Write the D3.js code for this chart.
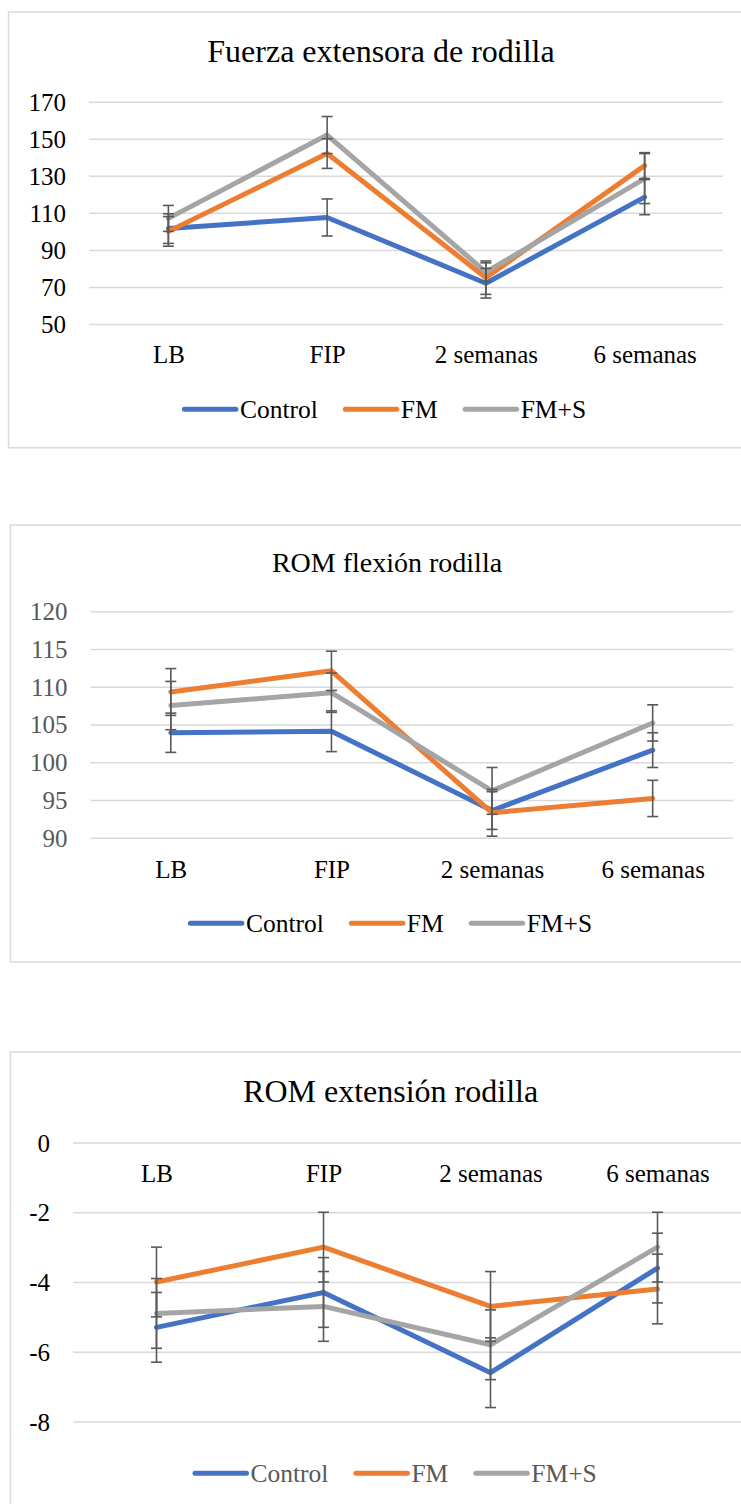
<!DOCTYPE html>
<html>
<head>
<meta charset="utf-8">
<script src="https://cdn.jsdelivr.net/npm/d3@7"></script>
<style>
  html, body { margin: 0; padding: 0; background: #ffffff; }
  svg { display: block; }
  svg text { font-family: "Liberation Serif", "Times New Roman", Tinos, "DejaVu Serif", serif !important; }
</style>
</head>
<body>
<svg id="page" width="741" height="1504"></svg>
<script>
// Shared categories and series
const categories = ["LB", "FIP", "2 semanas", "6 semanas"];
const seriesNames = ["Control", "FM", "FM+S"];
const seriesColors = ["#4472C4", "#ED7D31", "#A5A5A5"];

// Fuerza extensora de rodilla
const fuerzaTitle = "Fuerza extensora de rodilla";
const fuerzaTicks = [50, 70, 90, 110, 130, 150, 170];
const fuerzaControl = [101.5, 107.5, 72, 118.5];
const fuerzaControlErr = [8, 10, 8, 9.5];
const fuerzaFM = [100, 142, 75, 135.5];
const fuerzaFMErr = [8, 8, 9, 7];
const fuerzaFMS = [107, 152, 78, 128.5];
const fuerzaFMSErr = [7, 10, 5, 13.5];

// ROM flexión rodilla
const flexionTitle = "ROM flexión rodilla";
const flexionTicks = [90, 95, 100, 105, 110, 115, 120];
const flexionControl = [103.9, 104.1, 93.6, 101.6];
const flexionControlErr = [2.6, 2.7, 2.5, 2.3];
const flexionFM = [109.3, 112.1, 93.3, 95.2];
const flexionFMErr = [3.1, 2.6, 3.1, 2.4];
const flexionFMS = [107.5, 109.2, 96.2, 105.2];
const flexionFMSErr = [3.2, 2.6, 3.1, 2.4];

// ROM extensión rodilla
const extensionTitle = "ROM extensión rodilla";
const extensionTicks = [-8, -6, -4, -2, 0];
const extensionControl = [-5.3, -4.3, -6.6, -3.6];
const extensionControlErr = [1, 1, 1, 1];
const extensionFM = [-4.0, -3.0, -4.7, -4.2];
const extensionFMErr = [1, 1, 1, 1];
const extensionFMS = [-4.9, -4.7, -5.8, -3.0];
const extensionFMSErr = [1, 1, 1, 1];

const SERIF = "'Liberation Serif', 'Times New Roman', Tinos, 'DejaVu Serif', serif";
const svg = d3.select("#page");

function drawChart(cfg) {
  const g = svg.append("g").attr("font-family", SERIF);

  // frame
  g.append("rect")
    .attr("x", cfg.box[0]).attr("y", cfg.box[1])
    .attr("width", cfg.box[2]).attr("height", cfg.box[3])
    .attr("fill", "none").attr("stroke", "#d9d9d9").attr("stroke-width", 1.5);

  // title
  g.append("text")
    .attr("x", cfg.titleX).attr("y", cfg.titleY)
    .attr("text-anchor", "middle")
    .attr("font-size", cfg.titleSize)
    .attr("fill", "#000")
    .text(cfg.title);

  const x = d3.scalePoint().domain(categories).range(cfg.xRange).padding(0.5);
  const y = d3.scaleLinear().domain(cfg.yDomain).range(cfg.yRange);

  // gridlines + y tick labels (plain hyphen-minus for negatives)
  const yAxis = d3.axisLeft(y).tickValues(cfg.ticks)
    .tickSize(-(cfg.gridEnd - cfg.xRange[0])).tickPadding(0)
    .tickFormat(d => String(d));
  const ya = g.append("g").attr("transform", `translate(${cfg.xRange[0]},0)`).call(yAxis);
  ya.attr("font-family", SERIF).attr("font-size", 25);
  ya.select(".domain").remove();
  ya.selectAll(".tick line").attr("stroke", "#d9d9d9").attr("stroke-width", 1.5);
  ya.selectAll(".tick text")
    .attr("x", cfg.tickRight - cfg.xRange[0])
    .attr("dy", "0.34em")
    .attr("fill", cfg.tickColor);

  // category labels
  const xa = g.append("g").attr("transform", `translate(0,${cfg.catY})`)
    .call(d3.axisBottom(x).tickSize(0).tickPadding(0));
  xa.attr("font-family", SERIF).attr("font-size", 25);
  xa.select(".domain").remove();
  xa.selectAll(".tick text")
    .attr("dy", 0).attr("y", 0)
    .attr("fill", "#000");

  const line = d3.line().x((d, i) => x(categories[i])).y(d => y(d));

  // series lines
  cfg.series.forEach((s, k) => {
    g.append("path")
      .datum(s.values)
      .attr("d", line)
      .attr("fill", "none")
      .attr("stroke", seriesColors[k])
      .attr("stroke-width", 5)
      .attr("stroke-linejoin", "round")
      .attr("stroke-linecap", "round");
  });

  // error bars
  cfg.series.forEach((s) => {
    s.values.forEach((v, i) => {
      const cx = x(categories[i]);
      const lo = y(v - s.err[i]), hi = y(v + s.err[i]);
      const eg = g.append("g").attr("stroke", "#595959").attr("stroke-width", 1.6);
      eg.append("line").attr("x1", cx).attr("x2", cx).attr("y1", lo).attr("y2", hi);
      eg.append("line").attr("x1", cx - 5.5).attr("x2", cx + 5.5).attr("y1", lo).attr("y2", lo);
      eg.append("line").attr("x1", cx - 5.5).attr("x2", cx + 5.5).attr("y1", hi).attr("y2", hi);
    });
  });

  // legend
  const lg = g.append("g");
  let cursor = 0;
  seriesNames.forEach((name, k) => {
    const it = lg.append("g");
    it.append("line")
      .attr("x1", 2.5).attr("x2", 54).attr("y1", cfg.legendLineY).attr("y2", cfg.legendLineY)
      .attr("stroke", seriesColors[k]).attr("stroke-width", 5).attr("stroke-linecap", "round");
    const t = it.append("text")
      .attr("x", 58).attr("y", cfg.legendY)
      .attr("font-size", 25.5)
      .attr("fill", cfg.legendColor)
      .text(name);
    const w = 58 + t.node().getComputedTextLength();
    it.attr("transform", `translate(${cursor},0)`);
    cursor += w + 25;
  });
  const total = cursor - 25;
  lg.attr("transform", `translate(${cfg.legendCenter - total / 2},0)`);
}

drawChart({
  box: [8.5, 12, 740, 435.7],
  title: fuerzaTitle, titleX: 381, titleY: 62, titleSize: 32,
  xRange: [89, 724], gridEnd: 723,
  yDomain: [50, 170], yRange: [324, 101.7], ticks: fuerzaTicks,
  tickRight: 66, tickColor: "#000",
  catY: 363,
  legendLineY: 409.3, legendY: 417.7, legendCenter: 384, legendColor: "#000",
  series: [
    { values: fuerzaControl, err: fuerzaControlErr },
    { values: fuerzaFM, err: fuerzaFMErr },
    { values: fuerzaFMS, err: fuerzaFMSErr }
  ]
});

drawChart({
  box: [10.4, 525, 740, 437],
  title: flexionTitle, titleX: 387, titleY: 571.5, titleSize: 28,
  xRange: [90.5, 733], gridEnd: 733,
  yDomain: [90, 120], yRange: [837.7, 611.2], ticks: flexionTicks,
  tickRight: 67.5, tickColor: "#595959",
  catY: 878,
  legendLineY: 923.3, legendY: 931.7, legendCenter: 390, legendColor: "#000",
  series: [
    { values: flexionControl, err: flexionControlErr },
    { values: flexionFM, err: flexionFMErr },
    { values: flexionFMS, err: flexionFMSErr }
  ]
});

drawChart({
  box: [10.4, 1052, 740, 480],
  title: extensionTitle, titleX: 390.6, titleY: 1101.7, titleSize: 32,
  xRange: [73, 741], gridEnd: 741,
  yDomain: [-8, 0], yRange: [1421.5, 1142.5], ticks: extensionTicks,
  tickRight: 50, tickColor: "#000",
  catY: 1182,
  legendLineY: 1473.3, legendY: 1481.7, legendCenter: 394.6, legendColor: "#595959",
  series: [
    { values: extensionControl, err: extensionControlErr },
    { values: extensionFM, err: extensionFMErr },
    { values: extensionFMS, err: extensionFMSErr }
  ]
});
</script>
</body>
</html>
